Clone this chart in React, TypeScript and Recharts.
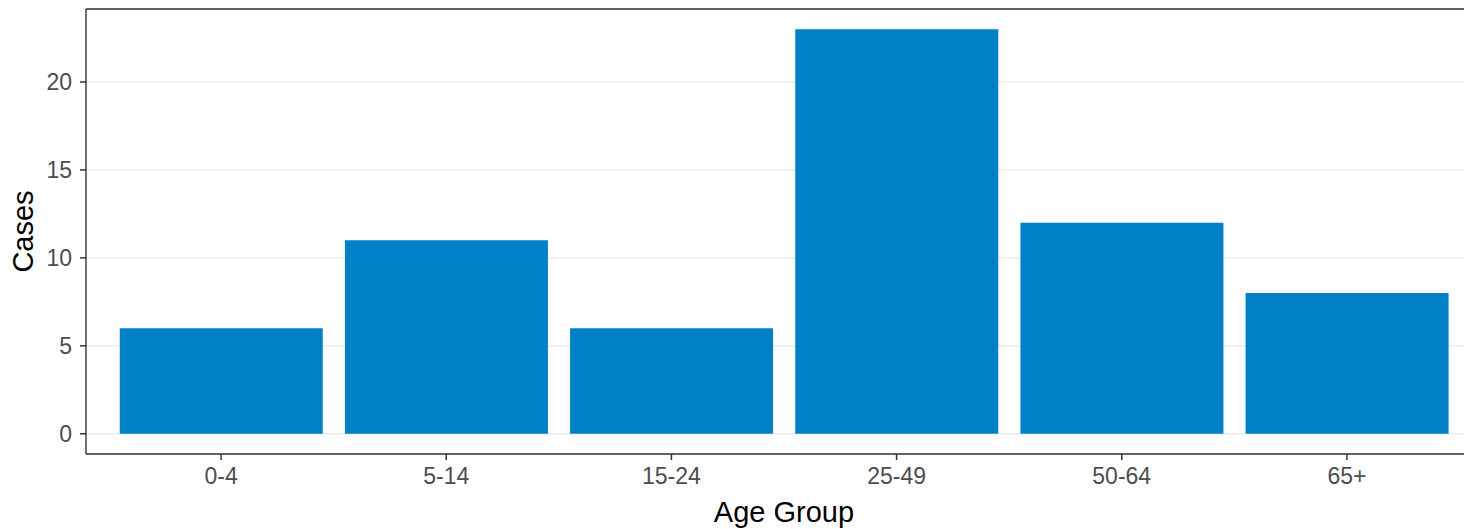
import React from 'react';
import { BarChart, Bar, XAxis, YAxis, CartesianGrid, ReferenceLine } from 'recharts';

const categories = ['0-4', '5-14', '15-24', '25-49', '50-64', '65+'];
const cases = [6, 11, 6, 23, 12, 8];
const yTicks = [0, 5, 10, 15, 20];
const yDomain = [-1.15, 24.15];

const data = categories.map((c, i) => ({ group: c, cases: cases[i] }));

const FONT = '"Liberation Sans", Arial, Helvetica, sans-serif';
const TICK_COLOR = '#4D4D4D';
const AXIS_COLOR = '#333333';

const YTick = (props: any) => {
  const { x, y, payload } = props;
  return (
    <text x={x} y={y} dy="0.36em" textAnchor="end" fill={TICK_COLOR} fontSize={23} fontFamily={FONT}>
      {payload.value}
    </text>
  );
};

const XTick = (props: any) => {
  const { x, y, payload } = props;
  return (
    <text x={x} y={y} dy="0.71em" textAnchor="middle" fill={TICK_COLOR} fontSize={23} fontFamily={FONT}>
      {payload.value}
    </text>
  );
};

const YLabel = (props: any) => {
  const vb = props.viewBox || { x: 0, y: 9, width: 86, height: 445 };
  const cy = vb.y + vb.height / 2;
  const cx = 33;
  return (
    <text x={cx} y={cy} textAnchor="middle" fill="#000" fontSize={29} fontFamily={FONT} transform={`rotate(-90, ${cx}, ${cy})`}>
      Cases
    </text>
  );
};

const XLabel = (props: any) => {
  const vb = props.viewBox || { x: 86, y: 454, width: 1396, height: 75 };
  const cx = vb.x + vb.width / 2;
  return (
    <text x={cx} y={521.5} textAnchor="middle" fill="#000" fontSize={29} fontFamily={FONT}>
      Age Group
    </text>
  );
};

export default function App() {
  return (
    <div style={{ position: 'absolute', left: 0, top: 0, width: 1464, height: 529, overflow: 'hidden', background: '#fff' }}>
      <BarChart
        width={1500}
        height={529}
        data={data}
        margin={{ top: 9, right: 18, bottom: 0, left: 0 }}
        barCategoryGap="5%"
      >
        <CartesianGrid vertical={false} stroke="#EBEBEB" strokeWidth={1.5} strokeDasharray="0" />
        <XAxis
          dataKey="group"
          height={75}
          tickSize={6}
          tickMargin={8}
          tick={<XTick />}
          tickLine={{ stroke: AXIS_COLOR, strokeWidth: 1.5 }}
          axisLine={{ stroke: AXIS_COLOR, strokeWidth: 1.4 }}
          padding={{ left: 22.5, right: 22.5 }}
          interval={0}
          label={<XLabel />}
        />
        <YAxis
          width={86}
          domain={yDomain}
          allowDataOverflow
          ticks={yTicks}
          tickSize={6}
          tickMargin={8}
          tick={<YTick />}
          tickLine={{ stroke: AXIS_COLOR, strokeWidth: 1.5 }}
          axisLine={{ stroke: AXIS_COLOR, strokeWidth: 1.4 }}
          label={<YLabel />}
        />
        <Bar dataKey="cases" fill="#0080C6" isAnimationActive={false} />
        <ReferenceLine y={yDomain[1]} stroke={AXIS_COLOR} strokeWidth={1.4} ifOverflow="visible" />
      </BarChart>
    </div>
  );
}
